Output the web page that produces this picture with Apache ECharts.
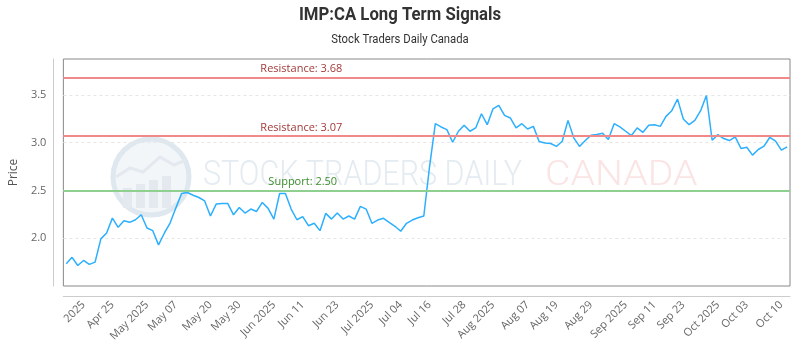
<!DOCTYPE html>
<html>
<head>
<meta charset="utf-8">
<script src="https://cdn.jsdelivr.net/npm/echarts@6/dist/echarts.min.js"></script>
<style>
html,body{margin:0;padding:0;background:#fff;}
#chart{width:800px;height:350px;}
</style>
</head>
<body>
<div id="chart"></div>
<script>
// ---- data ----
const price = [
  1.733, 1.800, 1.715, 1.767, 1.726, 1.750, 1.993, 2.055, 2.210, 2.114,
  2.183, 2.166, 2.193, 2.245, 2.107, 2.079, 1.930, 2.052, 2.159, 2.315,
  2.468, 2.478, 2.450, 2.426, 2.390, 2.232, 2.357, 2.364, 2.364, 2.245,
  2.322, 2.263, 2.305, 2.280, 2.374, 2.312, 2.200, 2.468, 2.468, 2.305,
  2.193, 2.225, 2.131, 2.156, 2.079, 2.260, 2.200, 2.263, 2.200, 2.232,
  2.200, 2.333, 2.305, 2.156, 2.190, 2.208, 2.166, 2.125, 2.073, 2.156,
  2.190, 2.214, 2.232, 2.750, 3.198, 3.164, 3.136, 3.004, 3.119, 3.181,
  3.119, 3.154, 3.302, 3.188, 3.354, 3.389, 3.285, 3.258, 3.154, 3.198,
  3.143, 3.170, 3.012, 2.996, 2.991, 2.960, 3.015, 3.233, 3.050, 2.960,
  3.022, 3.077, 3.084, 3.098, 3.032, 3.198, 3.164, 3.119, 3.074, 3.154,
  3.108, 3.181, 3.188, 3.170, 3.275, 3.334, 3.455, 3.247, 3.188, 3.233,
  3.334, 3.493, 3.025, 3.084, 3.043, 3.022, 3.060, 2.939, 2.952, 2.869,
  2.928, 2.963, 3.056, 3.015, 2.921, 2.956
];
const tickLabels = ['2025','Apr 25','May 2025','May 07','May 20','May 30','Jun 2025','Jun 11','Jun 23','Jul 2025','Jul 04','Jul 16',
  'Jul 28','Aug 2025','Aug 07','Aug 19','Aug 29','Sep 2025','Sep 11','Sep 23','Oct 2025','Oct 03','Oct 10'];
const tickIndex = [3, 8, 14, 19, 25, 30, 36, 41, 47, 53, 58, 63, 69, 74, 80, 85, 91, 97, 102, 107, 113, 118, 124];
const levelValues = [3.68, 3.07, 2.50];
const levelNames = ['Resistance', 'Resistance', 'Support'];
const yTicks = [2.0, 2.5, 3.0, 3.5];
const titleText = 'IMP:CA Long Term Signals';
const subtitleText = 'Stock Traders Daily Canada';

const categories = price.map((_, i) => {
  const k = tickIndex.indexOf(i);
  return k >= 0 ? tickLabels[k] : '';
});

const chart = echarts.init(document.getElementById('chart'), null, {renderer: 'canvas'});

const levelColors = ['#f08a8a', '#f08a8a', '#8fcf8f'];
const levelTextColors = ['#a33a3a', '#a33a3a', '#3c8c2c'];

const markData = levelValues.map((v, i) => ({
  yAxis: v,
  lineStyle: {color: levelColors[i], width: 2, type: 'solid'},
  label: {
    show: true,
    position: 'insideStartTop',
    distance: [i === 2 ? 205 : 197, 3],
    formatter: levelNames[i] + ': ' + v.toFixed(2),
    color: levelTextColors[i],
    fontSize: 11,
    fontFamily: 'Open Sans'
  }
}));

const option = {
  animation: false,
  backgroundColor: '#fff',
  graphic: [
    {type: 'text', x: 400, y: 15, scaleX: 0.93, style: {text: titleText, fill: '#333', font: 'bold 18px Roboto', textAlign: 'center', textVerticalAlign: 'middle'}, silent: true},
    {type: 'text', x: 400, y: 39.5, scaleX: 0.94, style: {text: subtitleText, fill: '#333', font: 'normal 12px Roboto', textAlign: 'center', textVerticalAlign: 'middle'}, silent: true},
    {type: 'circle', shape: {cx: 151, cy: 177, r: 38}, style: {fill: '#f2f6f9', stroke: '#dfe8ef', lineWidth: 5}, z: -1, silent: true},
    {type: 'rect', shape: {x: 123, y: 188, width: 9, height: 20}, style: {fill: '#e3e9ee'}, z: -1, silent: true},
    {type: 'rect', shape: {x: 136, y: 184, width: 9, height: 24}, style: {fill: '#e3e9ee'}, z: -1, silent: true},
    {type: 'rect', shape: {x: 149, y: 180, width: 9, height: 28}, style: {fill: '#e3e9ee'}, z: -1, silent: true},
    {type: 'rect', shape: {x: 162, y: 176, width: 9, height: 32}, style: {fill: '#e3e9ee'}, z: -1, silent: true},
    {type: 'polyline', shape: {points: [[116, 177], [130, 168], [143, 172], [160, 157], [174, 165], [186, 160]]}, style: {stroke: '#e3e9ee', lineWidth: 3, fill: null}, z: -1, silent: true},
    {type: 'text', x: 203, y: 176, scaleX: 0.87, style: {text: 'STOCK TRADERS DAILY', fill: '#e4ebf1', font: '300 35px Roboto', textVerticalAlign: 'middle'}, z: -1, silent: true},
    {type: 'text', x: 545, y: 176, scaleX: 1.12, style: {text: 'CANADA', fill: '#fbe4e4', font: '300 35px Roboto', textVerticalAlign: 'middle'}, z: -1, silent: true}
  ],
  grid: {
    left: 63, right: 10, top: 59, bottom: 64,
    show: true, borderColor: '#888', borderWidth: 1, backgroundColor: 'transparent'
  },
  xAxis: {
    type: 'category',
    data: categories,
    boundaryGap: true,
    offset: 10,
    axisLine: {show: true, lineStyle: {color: '#ccc', width: 1}},
    axisTick: {show: false},
    splitLine: {show: false},
    axisLabel: {
      rotate: 45,
      interval: (i) => tickIndex.indexOf(i) >= 0,
      fontSize: 11,
      color: '#666',
      fontFamily: 'Open Sans',
      margin: 7
    }
  },
  yAxis: {
    type: 'value',
    min: 1.5,
    max: 3.875,
    interval: 0.5,
    offset: 10,
    name: 'Price',
    nameLocation: 'middle',
    nameGap: 24,
    nameTextStyle: {fontSize: 12, color: '#555', fontFamily: 'Open Sans'},
    axisLine: {show: true, lineStyle: {color: '#ccc', width: 1}},
    axisTick: {show: false},
    axisLabel: {
      fontSize: 11,
      color: '#666',
      fontFamily: 'Open Sans',
      margin: 7,
      formatter: (v) => yTicks.some(t => Math.abs(t - v) < 1e-9) ? v.toFixed(1) : ''
    },
    splitLine: {show: true, showMinLine: false, showMaxLine: false, lineStyle: {color: '#e6e6e6', type: [3, 3]}}
  },
  series: [{
    type: 'line',
    data: price,
    symbol: 'none',
    lineStyle: {color: '#2caffe', width: 1.5},
    z: 3,
    markLine: {
      silent: true,
      symbol: ['none', 'none'],
      animation: false,
      data: markData
    }
  }]
};
chart.setOption(option);
</script>
</body>
</html>
